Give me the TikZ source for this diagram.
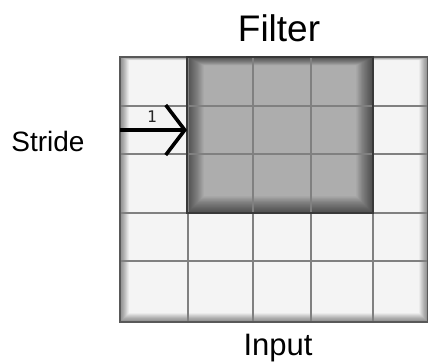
\documentclass[tikz,border=0pt]{standalone}
\usepackage{fontspec}
\setmainfont{Liberation Sans}
\newfontfamily\labelmono{DejaVu Sans Mono}
\usetikzlibrary{arrows.meta}
\definecolor{cellwhite}{HTML}{F4F4F4}
\definecolor{filtergrey}{HTML}{ADADAD}
\definecolor{gridgrey}{HTML}{808080}
\begin{document}
\begin{tikzpicture}[x=1pt,y=-1pt,
  block/.style={inner sep=0pt, outer sep=0pt, draw=none},
  gridline/.style={draw=gridgrey, line width=1.6pt},
  caption/.style={inner sep=0pt, text=black}]
\useasboundingbox (0,0) rectangle (428,362);

% input grid background
\node[block, fill=cellwhite, minimum width=308pt, minimum height=265pt] (input) at (274,189.5) {};
% soft inner shadow along the input border
\foreach \i in {1,...,16}
  \fill[black, opacity=0.032, even odd rule]
    (input.north west) rectangle (input.south east)
    ([xshift=0.55*\i pt, yshift=-0.2*\i pt]input.north west) rectangle ([xshift=-0.55*\i pt, yshift=0.55*\i pt]input.south east);

% filter window
\node[block, fill=filtergrey, minimum width=186pt, minimum height=156pt] (filter) at (280,135) {};
\foreach \i in {1,...,28}
  \fill[black, opacity=0.024, even odd rule]
    (filter.north west) rectangle (filter.south east)
    ([xshift=0.6*\i pt, yshift=-0.3*\i pt]filter.north west) rectangle ([xshift=-0.6*\i pt, yshift=0.6*\i pt]filter.south east);

% grid lines
\foreach \gx in {188,253,311,373}
  \draw[gridline] (\gx,57) -- (\gx,322);
\foreach \gy in {106,154,213,261}
  \draw[gridline] (120,\gy) -- (428,\gy);

% borders
\draw[draw=black!65, line width=1.6pt] (input.north west) rectangle (input.south east);
\draw[draw=black!78, line width=1.6pt] (filter.north west) rectangle (filter.south east);

% stride arrow
\coordinate (arrowstart) at (input.west |- 0,130);
\coordinate (arrowend) at (filter.west |- 0,130);
\draw[line width=3.6pt, -{Straight Barb[length=19pt, width=50pt, line width=3.6pt]}]
  (arrowstart) -- (arrowend);
\node[caption, text=black!85, font=\labelmono\fontsize{16}{16}\selectfont] (stepnum) at (152,117) {1};

% captions
\node[caption, font=\fontsize{37}{40}\selectfont] (ftitle) at (279,28) {Filter};
\node[caption, font=\fontsize{28}{30}\selectfont] (stride) at (48,141) {Stride};
\node[caption, font=\fontsize{31}{33}\selectfont] (ilabel) at (278,348) {Input};
\end{tikzpicture}
\end{document}
